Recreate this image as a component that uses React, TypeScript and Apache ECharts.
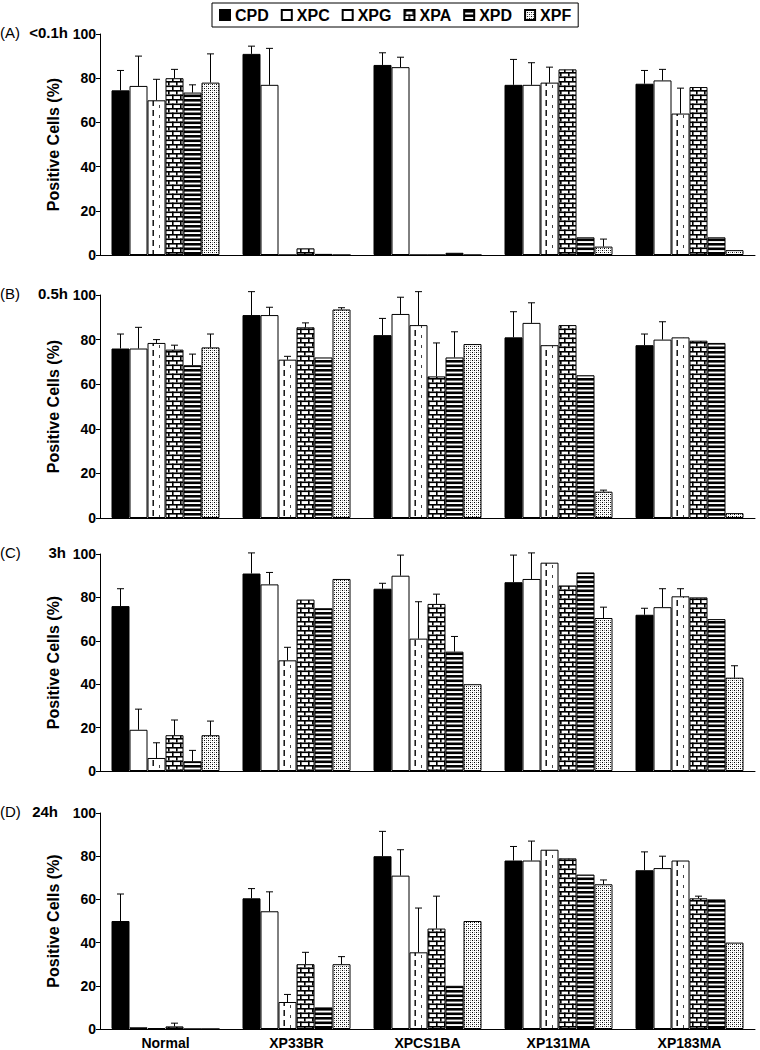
import React, { useEffect, useRef } from 'react';
import * as echarts from 'echarts';

const categories = ['Normal', 'XP33BR', 'XPCS1BA', 'XP131MA', 'XP183MA'];
const seriesNames = ['CPD', 'XPC', 'XPG', 'XPA', 'XPD', 'XPF'];
const panelTags = ['(A)', '(B)', '(C)', '(D)'];
const panelTimes = ['<0.1h', '0.5h', '3h', '24h'];
const yTicks = { min: 0, max: 100, step: 20 };

// rows = series (CPD, XPC, XPG, XPA, XPD, XPF); columns = categories
const meanA = [
  [74.5, 91, 86, 77, 77.5],
  [76.5, 77, 85, 77, 79],
  [70, 0, 0, 78, 64],
  [80, 3, 0, 84, 76],
  [73.5, 0.5, 1, 8, 8],
  [78, 0, 0, 3.8, 2.2],
];
const errA = [
  [83.5, 94.5, 91.5, 88.5, 83.5],
  [90, 93.5, 89.5, 87, 84],
  [79.5, null, null, 85, 75.5],
  [84, null, null, null, null],
  [77, null, null, null, null],
  [91, null, null, 7.2, null],
];
const meanB = [
  [76, 91, 82, 81, 77.5],
  [76, 91, 91.5, 87.5, 80],
  [78.5, 71, 86.5, 77.5, 81],
  [75.5, 85.5, 63.5, 86.5, 79.5],
  [68.5, 72, 72, 64, 78.5],
  [76.5, 93.5, 78, 11.8, 2.2],
];
const errB = [
  [82.5, 101.5, 89.5, 92.5, 82.5],
  [85.5, 94.5, 99, 96.5, 88],
  [80, 72.5, 101.5, null, null],
  [77.5, 87.5, 78.5, null, null],
  [73.5, null, 83.5, null, null],
  [82.5, 94.3, null, 12.5, null],
];
const meanC = [
  [76, 91, 84, 87, 72],
  [19, 86, 90, 88.5, 75.5],
  [6, 51, 61, 96, 80.5],
  [16.5, 79, 77, 85.5, 80],
  [4.5, 75, 55, 91.5, 70],
  [16.5, 88.5, 40, 70.5, 43],
];
const errC = [
  [84, 100.5, 86.5, 99.5, 75],
  [28.5, 91.5, 99.5, 100.5, 84],
  [13, 57, 78, null, 84],
  [23.5, null, 81.5, null, null],
  [9.5, null, 62, null, null],
  [23, null, null, 75.5, 48.5],
];
const meanD = [
  [50, 60.5, 80, 78, 73.5],
  [0.8, 54.5, 71, 78, 74.5],
  [0.4, 12.5, 35.5, 83, 78],
  [1.2, 30, 46.5, 79, 60.5],
  [0, 10, 20, 71.5, 60],
  [0, 30, 50, 67, 40],
];
const errD = [
  [62.5, 65, 91.5, 84.5, 82],
  [null, 63.5, 83, 87, 80],
  [null, 16, 56, null, null],
  [2.7, 35.5, 61.5, null, 61.5],
  [null, null, null, null, null],
  [null, 33.5, null, 69, null],
];

const means = [meanA, meanB, meanC, meanD];
const errs = [errA, errB, errC, errD];

const FONT = '"Liberation Sans", Arial, Helvetica, sans-serif';
const GRID_LEFT = 100;
const GRID_RIGHT = 5;
const BAR_W = 18;
const gridTops = [34, 295, 554, 813];
const gridBottoms = [255, 518, 771, 1030];

function makeCanvas(w: number, h: number, draw: (ctx: CanvasRenderingContext2D) => void) {
  const c = document.createElement('canvas');
  c.width = w;
  c.height = h;
  const ctx = c.getContext('2d') as CanvasRenderingContext2D;
  ctx.fillStyle = '#fff';
  ctx.fillRect(0, 0, w, h);
  ctx.fillStyle = '#000';
  draw(ctx);
  return c;
}

function buildFills() {
  const band = (760 - GRID_LEFT - GRID_RIGHT) / categories.length;
  const xpgLeft = GRID_LEFT + band / 2 - 3 * BAR_W + 2 * BAR_W;
  const d1 = (xpgLeft + 5) % band;
  const d2 = (xpgLeft + 11.5) % band;
  const xpg = makeCanvas(Math.round(band), 10, (ctx) => {
    ctx.fillRect(d1, 0, 1.4, 6);
    ctx.fillStyle = '#444';
    ctx.fillRect(d2, 5, 1, 3);
  });
  const xpa = makeCanvas(16, 9, (ctx) => {
    ctx.fillRect(0, 0, 16, 1.6);
    ctx.fillRect(0, 4.5, 16, 1.6);
    ctx.fillRect(0, 0, 1.6, 4.5);
    ctx.fillRect(8, 0, 1.6, 4.5);
    ctx.fillRect(4, 4.5, 1.6, 4.5);
    ctx.fillRect(12, 4.5, 1.6, 4.5);
  });
  const xpd = makeCanvas(4, 9, (ctx) => {
    ctx.fillRect(0, 0, 4, 2.6);
    ctx.fillRect(0, 4.5, 4, 2.6);
  });
  const xpf = makeCanvas(4, 4, (ctx) => {
    ctx.fillRect(0, 0, 1, 1);
    ctx.fillRect(2, 2, 1, 1);
    ctx.fillStyle = '#888';
    ctx.fillRect(2, 0, 1, 1);
    ctx.fillRect(0, 2, 1, 1);
  });
  return [
    '#000000',
    '#ffffff',
    { image: xpg, repeat: 'repeat' },
    { image: xpa, repeat: 'repeat' },
    { image: xpd, repeat: 'repeat' },
    { image: xpf, repeat: 'repeat' },
  ];
}

function buildOption() {
  const fills = buildFills();
  const grids: any[] = [];
  const xAxes: any[] = [];
  const yAxes: any[] = [];
  const series: any[] = [];
  const graphics: any[] = [];
  const timeX = [68, 68, 66, 58];

  for (let p = 0; p < 4; p++) {
    grids.push({
      left: GRID_LEFT,
      right: GRID_RIGHT,
      top: gridTops[p],
      height: gridBottoms[p] - gridTops[p],
      containLabel: false,
    });
    xAxes.push({
      type: 'category',
      gridIndex: p,
      data: categories,
      axisLine: { show: true, lineStyle: { color: '#000', width: 1 } },
      axisTick: { show: false },
      axisLabel: {
        show: p === 3,
        color: '#000',
        fontFamily: FONT,
        fontWeight: 'bold',
        fontSize: 14,
        margin: 7,
        interval: 0,
      },
      splitLine: { show: false },
    });
    yAxes.push({
      type: 'value',
      gridIndex: p,
      min: yTicks.min,
      max: yTicks.max,
      interval: yTicks.step,
      name: 'Positive Cells (%)',
      nameLocation: 'middle',
      nameGap: 33,
      nameRotate: 90,
      nameTextStyle: { color: '#000', fontFamily: FONT, fontWeight: 'bold', fontSize: 16 },
      axisLine: { show: true, lineStyle: { color: '#000', width: 1 } },
      axisTick: { show: true, inside: false, length: 4, lineStyle: { color: '#000' } },
      axisLabel: { color: '#000', fontFamily: FONT, fontWeight: 'bold', fontSize: 14, margin: 4 },
      splitLine: { show: false },
    });
    for (let s = 0; s < seriesNames.length; s++) {
      series.push({
        type: 'bar',
        name: seriesNames[s],
        xAxisIndex: p,
        yAxisIndex: p,
        data: means[p][s],
        barWidth: BAR_W,
        barGap: '0%',
        silent: true,
        itemStyle: { color: fills[s], borderColor: '#000', borderWidth: 1 },
      });
    }
    const errData: any[] = [];
    for (let s = 0; s < seriesNames.length; s++) {
      for (let c = 0; c < categories.length; c++) {
        const e = errs[p][s][c];
        if (e !== null && e !== undefined) errData.push([c, s, means[p][s][c], e]);
      }
    }
    series.push({
      type: 'custom',
      xAxisIndex: p,
      yAxisIndex: p,
      clip: false,
      silent: true,
      z: 5,
      data: errData,
      renderItem: (params: any, api: any) => {
        const c = api.value(0);
        const s = api.value(1);
        const top = api.coord([c, api.value(2)]);
        const end = api.coord([c, api.value(3)]);
        const x = top[0] + (s - 2.5) * BAR_W;
        return {
          type: 'group',
          children: [
            { type: 'line', shape: { x1: x, y1: top[1], x2: x, y2: end[1] }, style: { stroke: '#000', lineWidth: 1 } },
            { type: 'line', shape: { x1: x - 3.5, y1: end[1], x2: x + 3.5, y2: end[1] }, style: { stroke: '#000', lineWidth: 1 } },
          ],
        };
      },
    });
    graphics.push({
      type: 'text',
      left: 0,
      top: gridTops[p] - 9,
      style: { text: panelTags[p], fontFamily: FONT, fontSize: 15, fill: '#000' },
    });
    graphics.push({
      type: 'text',
      x: timeX[p],
      y: gridTops[p] - 9,
      style: { text: panelTimes[p], fontFamily: FONT, fontSize: 15, fontWeight: 'bold', fill: '#000', align: 'right' },
    });
  }

  return {
    animation: false,
    backgroundColor: '#fff',
    legend: {
      data: seriesNames,
      top: 3,
      left: 212,
      icon: 'rect',
      itemWidth: 10,
      itemHeight: 10,
      itemGap: 12,
      padding: [4, 7],
      borderColor: '#000',
      borderWidth: 1,
      selectedMode: false,
      textStyle: { color: '#000', fontFamily: FONT, fontSize: 16, fontWeight: 'bold' },
    },
    grid: grids,
    xAxis: xAxes,
    yAxis: yAxes,
    series,
    graphic: graphics,
  };
}

export default function App() {
  const ref = useRef<HTMLDivElement>(null);
  useEffect(() => {
    document.body.style.margin = '0';
    if (!ref.current) return;
    const chart = echarts.init(ref.current, undefined, { renderer: 'svg', width: 760, height: 1050 });
    chart.setOption(buildOption() as any);
    return () => chart.dispose();
  }, []);
  return <div ref={ref} style={{ width: 760, height: 1050 }} />;
}
